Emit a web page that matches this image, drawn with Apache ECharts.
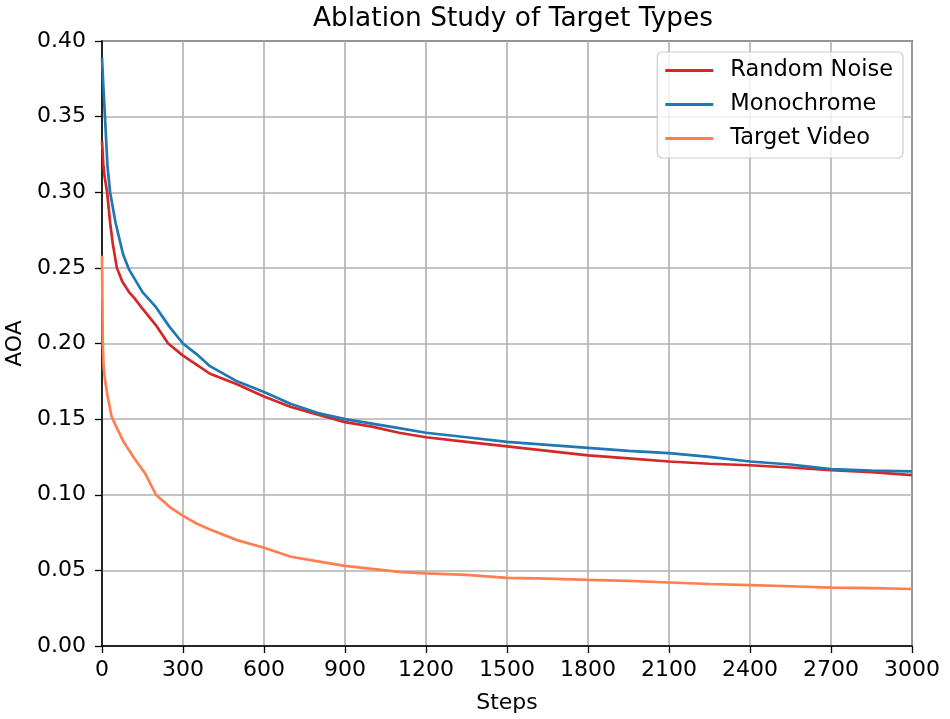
<!DOCTYPE html>
<html>
<head>
<meta charset="utf-8">
<script src="https://cdn.jsdelivr.net/npm/echarts@6/dist/echarts.min.js"></script>
<style>
  html, body { margin: 0; padding: 0; background: #fff; }
  #chart { width: 950px; height: 719px; }
</style>
</head>
<body>
<div id="chart"></div>
<script>
// readings: [step, AOA]
const randomNoise = [
  [0, 0.334], [5, 0.318], [10, 0.31], [19, 0.3], [30, 0.28], [40, 0.266],
  [55, 0.25], [75, 0.241], [100, 0.234], [120, 0.23], [150, 0.223], [200, 0.212],
  [245, 0.2], [300, 0.192], [350, 0.186], [400, 0.18], [500, 0.173], [600, 0.165],
  [700, 0.158], [800, 0.153], [900, 0.148], [1000, 0.145], [1100, 0.141],
  [1200, 0.138], [1350, 0.135], [1500, 0.132], [1650, 0.129], [1800, 0.126],
  [1950, 0.124], [2100, 0.122], [2250, 0.1205], [2400, 0.1195], [2550, 0.118],
  [2700, 0.1163], [2850, 0.115], [3000, 0.113]
]
const monochrome = [
  [0, 0.389], [5, 0.37], [11, 0.35], [20, 0.318], [30, 0.3], [50, 0.28],
  [78, 0.259], [100, 0.249], [150, 0.234], [200, 0.224], [250, 0.211], [300, 0.2],
  [350, 0.193], [400, 0.185], [500, 0.175], [600, 0.168], [700, 0.16],
  [800, 0.154], [900, 0.15], [1000, 0.147], [1100, 0.144], [1200, 0.141],
  [1350, 0.138], [1500, 0.135], [1650, 0.133], [1800, 0.131], [1950, 0.129],
  [2100, 0.1275], [2250, 0.125], [2400, 0.122], [2550, 0.12], [2700, 0.117],
  [2850, 0.116], [3000, 0.1155]
]
const targetVideo = [
  [0, 0.258], [3, 0.2], [6, 0.184], [12, 0.175], [20, 0.166], [35, 0.152],
  [50, 0.146], [80, 0.135], [120, 0.124], [160, 0.114], [200, 0.1], [250, 0.092],
  [300, 0.086], [350, 0.081], [400, 0.077], [500, 0.07], [600, 0.065],
  [700, 0.059], [800, 0.056], [900, 0.053], [1000, 0.051], [1100, 0.049],
  [1200, 0.048], [1350, 0.047], [1500, 0.045], [1650, 0.0445], [1800, 0.0437],
  [1950, 0.043], [2100, 0.042], [2250, 0.041], [2400, 0.0403], [2550, 0.0395],
  [2700, 0.0386], [2850, 0.0382], [3000, 0.0377]
]
const seriesNames = ['Random Noise', 'Monochrome', 'Target Video']
const seriesColors = ['#d62728', '#1f77b4', '#ff7f50']
const seriesData = [randomNoise, monochrome, targetVideo]

const font = 'DejaVu Sans'

const chart = echarts.init(document.getElementById('chart'))
chart.setOption({
  animation: false,
  title: {
    text: 'Ablation Study of Target Types',
    left: 508,
    textAlign: 'center',
    top: 1,
    textStyle: { fontFamily: font, fontSize: 26.4, fontWeight: 'normal', color: '#000' },
  },
  legend: {
    orient: 'vertical',
    right: 47,
    top: 52,
    itemWidth: 48,
    itemHeight: 3,
    itemGap: 11,
    padding: [7, 10, 8, 8],
    borderColor: '#cccccc',
    borderWidth: 1.2,
    borderRadius: 5,
    backgroundColor: 'rgba(255,255,255,0.8)',
    icon: 'rect',
    textStyle: { fontFamily: font, fontSize: 22.5, color: '#000', padding: [0, 0, 0, 12] },
    data: seriesNames,
  },
  grid: {
    left: 102,
    right: 38,
    top: 41,
    bottom: 73,
    outerBoundsMode: 'none',
    containLabel: false,
    show: true,
    borderColor: '#000',
    borderWidth: 1.5,
  },
  xAxis: {
    type: 'value',
    min: 0,
    max: 3000,
    interval: 300,
    name: 'Steps',
    nameLocation: 'middle',
    nameGap: 46,
    nameTextStyle: { fontFamily: font, fontSize: 22, color: '#000' },
    axisLine: { show: true, lineStyle: { color: '#000', width: 1.5 } },
    axisTick: { show: true, length: 7, lineStyle: { color: '#000', width: 1.3 } },
    axisLabel: { fontFamily: font, fontSize: 22, color: '#000', margin: 13, formatter: v => String(v) },
    splitLine: { show: true, lineStyle: { color: '#b0b0b0', width: 1.6 } },
  },
  yAxis: {
    type: 'value',
    min: 0,
    max: 0.4,
    interval: 0.05,
    name: 'AOA',
    nameLocation: 'middle',
    nameGap: 76,
    nameRotate: 90,
    nameTextStyle: { fontFamily: font, fontSize: 22, color: '#000' },
    axisLine: { show: true, lineStyle: { color: '#000', width: 1.5 } },
    axisTick: { show: true, length: 7, lineStyle: { color: '#000', width: 1.3 } },
    axisLabel: {
      fontFamily: font, fontSize: 22, color: '#000', margin: 16,
      formatter: v => v.toFixed(2),
    },
    splitLine: { show: true, lineStyle: { color: '#b0b0b0', width: 1.6 } },
  },
  series: seriesNames.map((name, i) => ({
    name: name,
    type: 'line',
    data: seriesData[i],
    color: seriesColors[i],
    showSymbol: false,
    lineStyle: { width: 2.7, color: seriesColors[i] },
  })),
})
</script>
</body>
</html>
